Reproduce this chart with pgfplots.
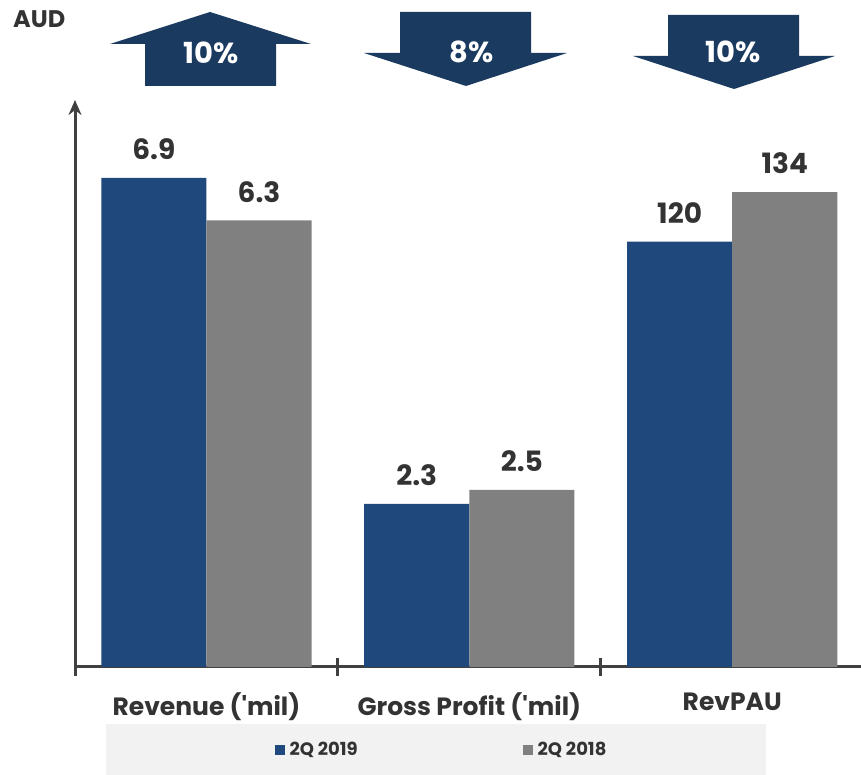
\documentclass[border=0pt]{standalone}
\usepackage{fontspec}
\setmainfont{Poppins}
\usepackage{pgfplots}
\pgfplotsset{compat=1.18}
\usetikzlibrary{arrows.meta}

\definecolor{barblue}{HTML}{1F497D}
\definecolor{bargrey}{HTML}{808080}
\definecolor{navy}{HTML}{1B3A5F}
\definecolor{txt}{HTML}{333333}
\definecolor{axisgrey}{HTML}{404040}
\definecolor{legbg}{HTML}{F2F2F2}

\begin{document}
\begin{tikzpicture}[x=1pt,y=1pt]
\path[use as bounding box] (0,0) rectangle (861,775);

% legend background
\fill[legbg] (106,0) rectangle (766,51);

% change arrows
\fill[navy] (145,689) -- (145,731) -- (110,731) -- (210,763) -- (311,731) -- (276,731) -- (276,689) -- cycle;
\node[text=white, font=\bfseries\fontsize{29}{29}\selectfont] at (211,722) {10\%};
\fill[navy] (400,763) -- (531,763) -- (531,722) -- (567,722) -- (466,689) -- (364,722) -- (400,722) -- cycle;
\node[text=white, font=\bfseries\fontsize{29}{29}\selectfont] at (472,723) {8\%};
\fill[navy] (668,760) -- (799,760) -- (799,719) -- (835,719) -- (734,686) -- (633,719) -- (668,719) -- cycle;
\node[text=white, font=\bfseries\fontsize{29}{29}\selectfont] at (733,723) {10\%};

\node[anchor=west, inner sep=0pt, text=txt, font=\bfseries\fontsize{24}{24}\selectfont] at (13,756) {AUD};

\begin{axis}[
    at={(75pt,108pt)}, anchor=south west,
    scale only axis, width=786pt, height=567pt,
    clip=false,
    ybar=0pt, bar width=0.4,
    xmin=-0.5, xmax=2.49, ymin=0, ymax=8,
    enlargelimits=false,
    axis x line=bottom, axis y line=left,
    x axis line style={-, draw=axisgrey, line width=3pt},
    y axis line style={-{Stealth[length=15pt,width=13pt]}, draw=axisgrey, line width=3pt},
    ytick=\empty,
    xtick={0,1,2},
    xticklabels={Revenue (\textquotesingle mil), Gross Profit (\textquotesingle mil), RevPAU},
    major tick length=0pt,
    xtick style={draw=none},
    xticklabel style={font=\bfseries\fontsize{25}{25}\selectfont, text=txt, yshift=-22pt},
    extra x ticks={-0.5,0.5,1.5},
    extra x tick labels={},
    extra x tick style={major tick length=18pt, tick align=center,
        xtick style={draw=axisgrey, line width=3pt}},
    point meta=explicit symbolic,
    nodes near coords,
    every node near coord/.append style={font=\bfseries\fontsize{28}{28}\selectfont,
        text=txt, inner sep=0pt, yshift=18pt},
    legend columns=2,
    legend style={at={(0.465,-0.1464)}, anchor=center, draw=none, fill=none,
        font=\bfseries\fontsize{18}{18}\selectfont, text=txt,
        nodes={inner sep=0pt},
        /tikz/every odd column/.append style={column sep=5pt},
        /tikz/every even column/.append style={column sep=165pt}},
]
\addplot[fill=barblue, draw=none,
    legend image code/.code={\fill[barblue] (0pt,-5pt) rectangle (10pt,5pt);}]
    coordinates {(0,6.9) [6.9] (1,2.3) [2.3] (2,6.0) [120]};
\addlegendentry{2Q 2019}
\addplot[fill=bargrey, draw=none,
    legend image code/.code={\fill[bargrey] (0pt,-5pt) rectangle (10pt,5pt);}]
    coordinates {(0,6.3) [6.3] (1,2.5) [2.5] (2,6.7) [134]};
\addlegendentry{2Q 2018}
\end{axis}
\end{tikzpicture}
\end{document}
